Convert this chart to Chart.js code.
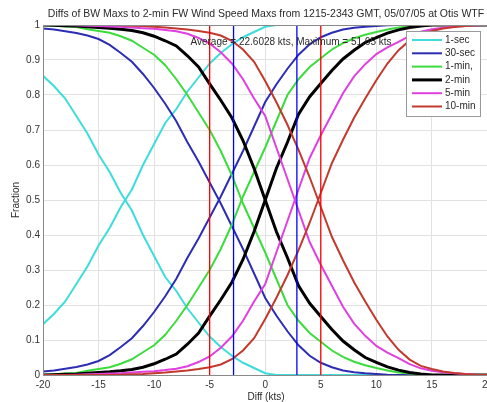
<!DOCTYPE html>
<html>
<head>
<meta charset="utf-8">
<script src="https://cdn.jsdelivr.net/npm/chart.js@4/dist/chart.umd.min.js"></script>
<style>
  html, body { margin: 0; padding: 0; background: #fff; overflow: hidden; }
  #wrap { width: 487px; height: 402px; overflow: hidden; }
  canvas { display: block; }
</style>
</head>
<body>
<div id="wrap"><canvas id="cdf" width="497" height="402"></canvas></div>
<script>
// ── data ─────────────────────────────────────────────────────────────────
const diffs = [-20, -19, -18, -17, -16, -15, -14, -13, -12, -11, -10, -9, -8, -7, -6, -5, -4, -3, -2, -1,
                 0, 1, 2, 3, 4, 5, 6, 7, 8, 9, 10, 11, 12, 13, 14, 15, 16, 17, 18, 19, 20];

// cumulative fraction of diffs <= x, one list per averaging window
const sec1  = [0.145, 0.175, 0.21, 0.26, 0.31, 0.37, 0.42, 0.48, 0.53, 0.60, 0.66, 0.72, 0.76, 0.81, 0.85, 0.89, 0.92, 0.945, 0.965, 0.98,
               0.995, 1, 1, 1, 1, 1, 1, 1, 1, 1, 1, 1, 1, 1, 1, 1, 1, 1, 1, 1, 1];
const sec30 = [0.01, 0.013, 0.018, 0.023, 0.03, 0.04, 0.057, 0.08, 0.105, 0.14, 0.18, 0.225, 0.275, 0.335, 0.39, 0.45, 0.51, 0.575, 0.64, 0.71,
               0.78, 0.83, 0.875, 0.915, 0.945, 0.965, 0.978, 0.987, 0.992, 0.995, 0.997, 0.999, 1, 1, 1, 1, 1, 1, 1, 1, 1];
const min1  = [0, 0.002, 0.004, 0.006, 0.012, 0.017, 0.022, 0.032, 0.045, 0.065, 0.085, 0.115, 0.155, 0.2, 0.25, 0.3, 0.36, 0.43, 0.51, 0.58,
               0.65, 0.725, 0.8, 0.845, 0.88, 0.905, 0.93, 0.948, 0.962, 0.972, 0.98, 0.987, 0.993, 0.996, 0.998, 1, 1, 1, 1, 1, 1];
const min2  = [0, 0.001, 0.002, 0.003, 0.005, 0.007, 0.009, 0.012, 0.016, 0.022, 0.032, 0.045, 0.06, 0.088, 0.12, 0.168, 0.215, 0.265, 0.33, 0.41,
               0.5, 0.59, 0.665, 0.745, 0.795, 0.833, 0.87, 0.903, 0.928, 0.95, 0.964, 0.977, 0.986, 0.993, 0.997, 1, 1, 1, 1, 1, 1];
const min5  = [0, 0, 0, 0.001, 0.002, 0.003, 0.004, 0.005, 0.007, 0.009, 0.011, 0.014, 0.018, 0.025, 0.037, 0.053, 0.078, 0.11, 0.155, 0.21,
               0.26, 0.35, 0.44, 0.53, 0.62, 0.685, 0.745, 0.805, 0.853, 0.888, 0.917, 0.936, 0.952, 0.969, 0.981, 0.988, 0.992, 0.995, 0.997, 0.999, 1];
const min10 = [0, 0, 0, 0, 0, 0, 0, 0.001, 0.002, 0.003, 0.005, 0.007, 0.01, 0.013, 0.017, 0.022, 0.03, 0.045, 0.07, 0.105,
               0.16, 0.22, 0.285, 0.357, 0.435, 0.52, 0.605, 0.672, 0.735, 0.79, 0.842, 0.89, 0.928, 0.956, 0.974, 0.983, 0.99, 0.994, 0.997, 0.999, 1];

const seriesNames  = ["1-sec", "30-sec", "1-min,", "2-min", "5-min", "10-min"];
const seriesValues = [sec1, sec30, min1, min2, min5, min10];
const seriesColors = ["#3fdcdc", "#2d2db4", "#3ddc3d", "#000000", "#e040e0", "#c23a2e"];
const seriesWidths = [2, 2, 2, 3, 2, 2];

const redMarks  = [-5, 5];
const blueMarks = [-2.85, 2.85];

const titleText = "Diffs of BW Maxs to 2-min FW Wind Speed Maxs from 1215-2343 GMT, 05/07/05 at Otis WTF";
const statsText = "Average = 22.6028 kts, Maximum = 51.65 kts";
const xTitle = "Diff (kts)";
const yTitle = "Fraction";

// ── datasets ─────────────────────────────────────────────────────────────
const FONT = "'Liberation Sans', Arial, sans-serif";
const datasets = [];
seriesValues.forEach((cdf, s) => {
  const style = {
    borderColor: seriesColors[s], borderWidth: seriesWidths[s],
    pointRadius: 0, tension: 0, fill: false, order: 10 - s,
  };
  // rising: fraction below x; falling: fraction above x
  datasets.push({ ...style, label: seriesNames[s], data: diffs.map((x, i) => ({ x, y: cdf[i] })) });
  datasets.push({ ...style, label: seriesNames[s] + " exceed", data: diffs.map((x, i) => ({ x, y: 1 - cdf[i] })) });
});
for (const [marks, color] of [[redMarks, "#ff0000"], [blueMarks, "#0000ff"]]) {
  for (const m of marks) {
    datasets.push({ label: "mark", data: [{ x: m, y: 0 }, { x: m, y: 1 }],
      borderColor: color, borderWidth: 1.3, pointRadius: 0, order: 1 });
  }
}

// ── decorations: box, titles, legend ─────────────────────────────────────
const decor = {
  id: "decor",
  afterDraw(chart) {
    const { ctx, chartArea: a } = chart;
    ctx.save();
    ctx.strokeStyle = "#8a8a8a";
    ctx.lineWidth = 1;
    ctx.strokeRect(a.left + 0.5, a.top + 0.5, a.right - a.left, a.bottom - a.top);

    ctx.fillStyle = "#2a2a2a";
    ctx.textAlign = "center";
    ctx.textBaseline = "middle";
    ctx.font = `10.5px ${FONT}`;
    ctx.fillText(titleText, 266, 14);
    ctx.font = `10px ${FONT}`;
    ctx.fillText(statsText, 291, 42);
    ctx.fillText(xTitle, 266, 397);
    ctx.save();
    ctx.translate(16, 200);
    ctx.rotate(-Math.PI / 2);
    ctx.fillText(yTitle, 0, 0);
    ctx.restore();

    // legend
    const lx = 406, ly = 31, lw = 74, lh = 85;
    ctx.fillStyle = "#fff";
    ctx.fillRect(lx, ly, lw, lh);
    ctx.strokeStyle = "#9a9a9a";
    ctx.strokeRect(lx + 0.5, ly + 0.5, lw, lh);
    ctx.textAlign = "left";
    seriesNames.forEach((name, s) => {
      const y = 40 + s * 13.3;
      ctx.strokeStyle = seriesColors[s];
      ctx.lineWidth = seriesWidths[s];
      ctx.beginPath();
      ctx.moveTo(412, y);
      ctx.lineTo(442, y);
      ctx.stroke();
      ctx.fillStyle = "#2a2a2a";
      ctx.fillText(name, 445, y);
    });
    ctx.restore();
  },
};

new Chart(document.getElementById("cdf"), {
  type: "line",
  data: { datasets },
  plugins: [decor],
  options: {
    responsive: false,
    animation: false,
    layout: { padding: { top: 25, left: 0, right: 0, bottom: 0 } },
    plugins: { legend: { display: false }, tooltip: { enabled: false } },
    scales: {
      x: {
        type: "linear", min: -20, max: 20,
        ticks: { stepSize: 5, color: "#333", font: { size: 10, family: FONT }, padding: 4, maxRotation: 0 },
        grid: { color: "#e2e2e2", drawTicks: false },
        border: { color: "#8a8a8a" },
        afterFit: s => { s.height = 27; },
      },
      y: {
        min: 0, max: 1,
        ticks: { stepSize: 0.1, color: "#333", font: { size: 10, family: FONT }, padding: 3,
                 callback: v => String(+v.toFixed(1)) },
        grid: { color: "#e2e2e2", drawTicks: false },
        border: { color: "#8a8a8a" },
        afterFit: s => { s.width = 43; },
      },
    },
  },
});
</script>
</body>
</html>
